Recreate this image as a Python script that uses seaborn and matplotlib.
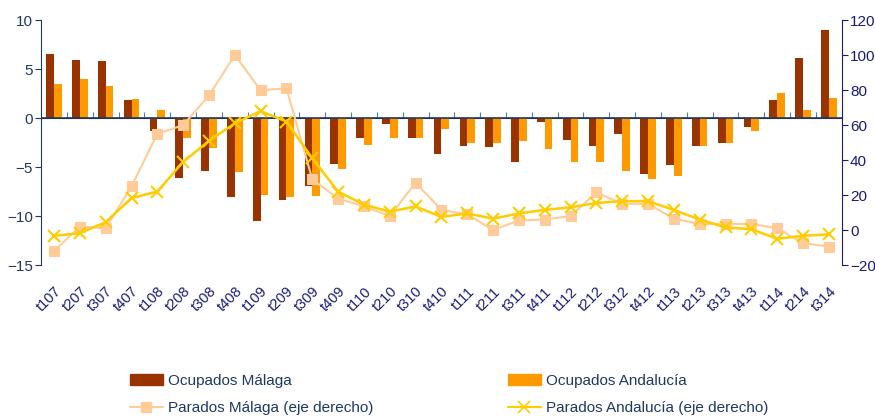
import numpy as np
import pandas as pd
import matplotlib
matplotlib.use('Agg')
import matplotlib.pyplot as plt
import seaborn as sns
from matplotlib.patches import Patch
from matplotlib.lines import Line2D

# data
periods = ['t107', 't207', 't307', 't407', 't108', 't208', 't308', 't408',
           't109', 't209', 't309', 't409', 't110', 't210', 't310', 't410',
           't111', 't211', 't311', 't411', 't112', 't212', 't312', 't412',
           't113', 't213', 't313', 't413', 't114', 't214', 't314']
ocup_malaga = [6.5, 5.9, 5.8, 1.8, -1.3, -6.1, -5.4, -8.1,
               -10.5, -8.4, -6.9, -4.7, -2.0, -0.6, -2.0, -3.7,
               -2.8, -3.0, -4.5, -0.4, -2.2, -2.8, -1.6, -5.7,
               -4.8, -2.8, -2.5, -0.9, 1.8, 6.1, 9.0]
ocup_andalucia = [3.5, 4.0, 3.3, 1.9, 0.85, -2.0, -3.1, -5.5,
                  -7.8, -8.1, -8.0, -5.2, -2.7, -2.0, -2.0, -1.1,
                  -2.5, -2.5, -2.3, -3.2, -4.5, -4.5, -5.4, -6.2,
                  -5.9, -2.8, -2.5, -1.3, 2.6, 0.85, 2.1]
par_malaga = [-12, 2, 1, 25, 55, 60, 77, 100,
              80, 81, 29, 18, 13.5, 8, 27, 11.5,
              9, 0, 5.5, 6, 8, 21.5, 15, 15,
              6.5, 3.5, 3.5, 3.5, 1, -7.5, -9.5]
par_andalucia = [-3.3, -1.8, 4.5, 18.3, 22, 39, 51, 61,
                 68, 62, 41, 22, 14.5, 10.5, 13.5, 7.5,
                 9.5, 6.5, 9.5, 11.5, 13, 15.5, 16.5, 16.5,
                 11.5, 6, 1.5, 0.5, -5, -3.3, -2.5]

lab_om = 'Ocupados Málaga'
lab_oa = 'Ocupados Andalucía'
lab_pm = 'Parados Málaga (eje derecho)'
lab_pa = 'Parados Andalucía (eje derecho)'

c_om = '#993300'
c_oa = '#FF9900'
c_pm = '#FFCC99'
c_pa = '#FFCC00'
navy = '#1F3864'
navy2 = '#1A1A7A'

sns.set_style('white')
plt.rcParams['font.family'] = ['Liberation Sans', 'DejaVu Sans']

bars = pd.DataFrame({
    'periodo': periods * 2,
    'valor': ocup_malaga + ocup_andalucia,
    'serie': [lab_om] * len(periods) + [lab_oa] * len(periods),
})
pos = np.arange(len(periods))

fig = plt.figure(figsize=(8.75, 4.2), dpi=100)
ax = fig.add_axes([0.047, 0.369, 0.915, 0.583])

sns.barplot(data=bars, x='periodo', y='valor', hue='serie',
            palette=[c_om, c_oa], width=0.6, saturation=1, linewidth=0,
            edgecolor='none', ax=ax, legend=False)
ax.set_xlim(-0.5, len(periods) - 0.5)
ax.set_ylim(-15, 10)
ax.set_yticks([-15, -10, -5, 0, 5, 10])
ax.set_xlabel('')
ax.set_ylabel('')
for s in ['top', 'right', 'bottom']:
    ax.spines[s].set_visible(False)
ax.spines['left'].set_color(navy)
ax.tick_params(axis='y', colors=navy, labelsize=11, length=4, pad=2,
               direction='out', left=True)
ax.tick_params(axis='x', length=0, pad=14, labelsize=10.5, labelcolor=navy2)
plt.setp(ax.get_xticklabels(), rotation=45, ha='right', rotation_mode='anchor')

# zero line over the bars, with category separators below it
ax.axhline(0, color=navy, lw=1.2, zorder=3)
zero = ax.secondary_xaxis(15 / 25)
zero.set_xticks(pos[:-1] + 0.5)
zero.set_xticklabels([])
zero.spines['bottom'].set_color(navy)
zero.spines['bottom'].set_linewidth(1.2)
zero.tick_params(axis='x', length=4, color='#5A7AA8', direction='out')

ax2 = ax.twinx()
sns.lineplot(x=pos, y=par_malaga, color=c_pm, lw=1.5, marker='s', ms=7,
             mec=c_pm, mfc=c_pm, ax=ax2)
sns.lineplot(x=pos, y=par_andalucia, color=c_pa, lw=1.8, marker='x', ms=9,
             mec=c_pa, mew=1.5, ax=ax2)
ax2.set_ylim(-20, 120)
ax2.set_yticks(range(-20, 121, 20))
for s in ['top', 'left', 'bottom']:
    ax2.spines[s].set_visible(False)
ax2.spines['right'].set_color(navy2)
ax2.tick_params(axis='y', colors=navy2, labelsize=11, length=4, pad=2,
                direction='out', right=True)

handles = [Patch(color=c_om), Patch(color=c_oa),
           Line2D([], [], color=c_pm, lw=1.5, marker='s', ms=7),
           Line2D([], [], color=c_pa, lw=1.5, marker='x', ms=8, mew=1.2)]
labels = [lab_om, lab_oa, lab_pm, lab_pa]
fig.legend([handles[0], handles[2], handles[1], handles[3]],
           [labels[0], labels[2], labels[1], labels[3]],
           ncol=2, loc='lower left', bbox_to_anchor=(0.148, 0.012),
           frameon=False, fontsize=11, labelcolor=navy,
           handlelength=2.2, handletextpad=0.3, borderaxespad=0, borderpad=0,
           labelspacing=0.85, columnspacing=8.8)

fig.savefig('out.png', dpi=100)
